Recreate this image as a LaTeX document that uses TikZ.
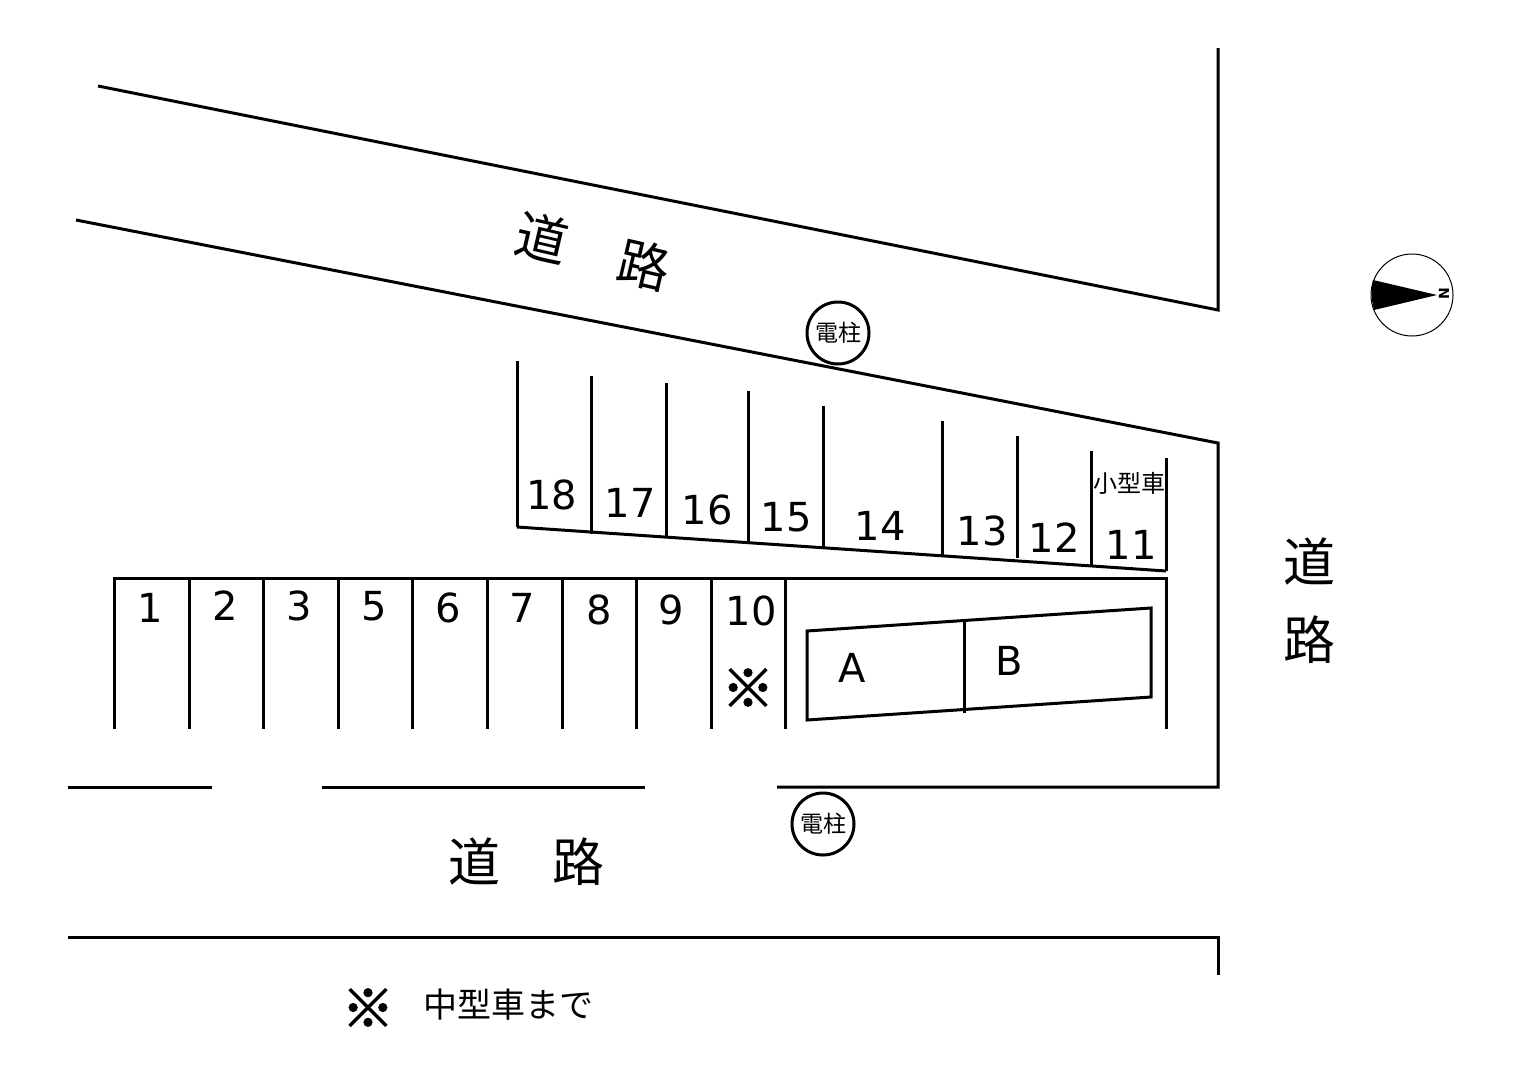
\documentclass[tikz,border=0pt]{standalone}
\usepackage{fontspec}
\setmainfont{DejaVu Sans}
\newfontfamily\jpfont{Noto Sans CJK JP}
\newfontfamily\jpbold[FakeBold=2.5]{Noto Sans CJK JP}
\usetikzlibrary{positioning}
\tikzset{
  wall/.style={line width=3pt},
  stall/.style={font=\fontsize{40}{45}\selectfont,inner sep=0pt},
  road/.style={font=\jpfont\fontsize{52}{56}\selectfont,inner sep=0pt},
  pole/.style={circle,draw,line width=3pt,minimum size=62pt,inner sep=0pt,font=\jpfont\fontsize{23}{26}\selectfont},
  note/.style={font=\jpfont\fontsize{34}{38}\selectfont,inner sep=0pt},
  refmark/.style={font=\jpbold\fontsize{52}{56}\selectfont,inner sep=0pt}
}
\begin{document}
\begin{tikzpicture}[x=1pt,y=-1pt]
      \useasboundingbox (0,0) rectangle (1522,1076);
      % roads
      \draw[wall] (98,86) -- (1218,310) -- (1218,48);
      \draw[wall] (76,220) -- (1218,443) -- (1218,787) -- (777,787);
      \draw[wall] (322,787) -- (645,787);
      \draw[wall] (68,787) -- (212,787);
      \draw[wall] (68,937) -- (1218,937) -- (1218,975);
      \node[road,rotate=-13] (roadtopa) at (542,238) {道};
      \node[road,rotate=-13] (roadtopb) at (644,265) {路};
      \node[road] (roadbota) at (474,862) {道};
      \node[road] (roadbotb) at (578,862) {路};
      \node[road] (roadrighta) at (1309,562) {道};
      \node[road] (roadrightb) at (1309,640) {路};
      % lower row
      \draw[wall] (114,729) -- (114,578) -- (1166,578) -- (1166,729);
      \foreach \x in {189,263,338,412,487,562,636,711,785}
        \draw[wall] (\x,578) -- (\x,729);
      \foreach \n/\x/\y in {1/150/608,2/225/606,3/299/606,5/374/606,6/448/608,7/522/608,8/599/610,9/671/610,10/751/611}
        \node[stall] (low\n) at (\x,\y) {\n};
      \node[refmark] (markten) at (748,688) {※};
      % upper row
      \draw[wall] (517,527) -- (1166,571);
      \foreach \x/\y/\z in {517/361/527,591/376/534,666/383/537,748/391/542,823/406/549,942/421/556,1017/436/558,1091/451/565,1166/458/571}
        \draw[wall] (\x,\y) -- (\x,\z);
      \foreach \n/\x/\y in {18/552/495,17/630/503,16/707/510,15/786/517,14/880/526,13/982/531,12/1054/538,11/1131/545}
        \node[stall] (up\n) at (\x,\y) {\n};
      \node[font=\jpfont\fontsize{24}{26}\selectfont,inner sep=0pt] (small) at (1129,483) {小型車};
      % building
      \draw[wall] (807,631) -- (1151,608) -- (1151,697) -- (807,720) -- cycle;
      \draw[wall] (964,622) -- (964,713);
      \node[stall] (bldga) at (852,668) {A};
      \node[stall] (bldgb) at (1009,661) {B};
      % poles
      \node[pole] (poletop) at (838,333) {電柱};
      \node[pole] (polebot) at (823,824) {電柱};
      % compass
      \node[circle,draw,line width=1pt,minimum size=82pt,inner sep=0pt] (compass) at (1412,295) {};
      \fill (1373,280) to[bend right=12] (1374,310) -- (1437,295) -- cycle;
      \node[rotate=90,font=\fontsize{14}{14}\selectfont\bfseries,inner sep=0pt] (north) at (1444,294) {N};
      % note
      \node[refmark] (marknote) at (368,1008) {※};
      \node[note] (notetext) at (508,1005) {中型車まで};
    \end{tikzpicture}
\end{document}
